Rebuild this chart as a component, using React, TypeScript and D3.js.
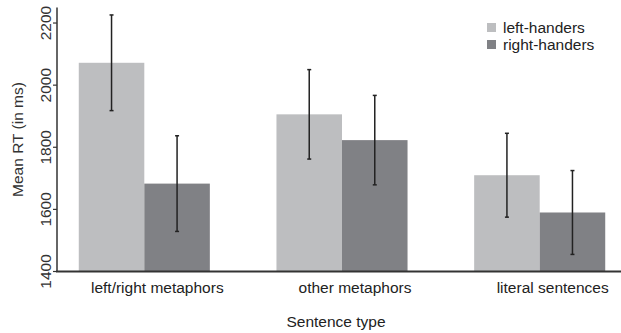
import * as d3 from "d3";
import React, { useRef, useEffect } from "react";

const categories = ["left/right metaphors", "other metaphors", "literal sentences"];
const groups = ["left-handers", "right-handers"];
const leftMeans = [2072, 1906, 1710];
const leftErr = [154, 144, 135];
const rightMeans = [1683, 1823, 1590];
const rightErr = [154, 144, 135];
const yTicks = [1400, 1600, 1800, 2000, 2200];

function BarChart(props: { width: number; height: number }) {
    const ref = useRef<SVGSVGElement>(null);

    useEffect(() => {
        const svg = d3.select(ref.current);
        svg.selectAll("*").remove();

        const font = "'Liberation Sans', Arial, sans-serif";
        const axisColor = "#333";
        const colors = ["#bdbec0", "#808185"];

        const x = d3.scaleBand<string>()
            .domain(categories)
            .range([59, 625])
            .paddingInner(0.337)
            .paddingOuter(0.1);

        const sub = d3.scaleBand<string>()
            .domain(groups)
            .range([0, x.bandwidth()]);

        const y = d3.scaleLinear()
            .domain([1400, 2250])
            .range([271.5, 7.5]);

        const rows = categories.flatMap((c, i) => [
            { cat: c, grp: groups[0], mean: leftMeans[i], err: leftErr[i] },
            { cat: c, grp: groups[1], mean: rightMeans[i], err: rightErr[i] },
        ]);

        // bars
        svg.append("g")
            .selectAll("rect")
            .data(rows)
            .enter()
            .append("rect")
            .attr("x", d => (x(d.cat) as number) + (sub(d.grp) as number))
            .attr("width", sub.bandwidth())
            .attr("y", d => y(d.mean))
            .attr("height", d => y(1400) - y(d.mean))
            .attr("fill", d => colors[groups.indexOf(d.grp)]);

        // error bars
        const eb = svg.append("g")
            .selectAll("g")
            .data(rows)
            .enter()
            .append("g")
            .attr("stroke", "#222")
            .attr("stroke-width", 1.5)
            .attr("transform", d => `translate(${(x(d.cat) as number) + (sub(d.grp) as number) + sub.bandwidth() / 2},0)`);

        eb.append("line")
            .attr("y1", d => y(d.mean + d.err))
            .attr("y2", d => y(d.mean - d.err));
        eb.append("line")
            .attr("x1", -2).attr("x2", 2)
            .attr("y1", d => y(d.mean + d.err))
            .attr("y2", d => y(d.mean + d.err));
        eb.append("line")
            .attr("x1", -2).attr("x2", 2)
            .attr("y1", d => y(d.mean - d.err))
            .attr("y2", d => y(d.mean - d.err));

        // y axis
        const yAxis = svg.append("g");
        yAxis.append("line")
            .attr("x1", 57).attr("x2", 57)
            .attr("y1", y(2250)).attr("y2", y(1400))
            .attr("stroke", axisColor)
            .attr("stroke-width", 1.5);
        const tick = yAxis.selectAll(".tick")
            .data(yTicks)
            .enter()
            .append("g")
            .attr("class", "tick");
        tick.append("line")
            .attr("x1", 53).attr("x2", 57)
            .attr("y1", d => y(d)).attr("y2", d => y(d))
            .attr("stroke", axisColor)
            .attr("stroke-width", 1.2);
        tick.append("text")
            .text(d => d)
            .attr("transform", d => `translate(51,${y(d)}) rotate(-90)`)
            .attr("text-anchor", "middle")
            .attr("font-family", font)
            .attr("font-size", 15.5)
            .attr("fill", "#333");

        svg.append("text")
            .text("Mean RT (in ms)")
            .attr("transform", `translate(23,${y(1825)}) rotate(-90)`)
            .attr("text-anchor", "middle")
            .attr("font-family", font)
            .attr("font-size", 15.5)
            .attr("fill", "#333");

        // x axis
        svg.append("line")
            .attr("x1", 56).attr("x2", 621)
            .attr("y1", 271.5).attr("y2", 271.5)
            .attr("stroke", axisColor)
            .attr("stroke-width", 2);

        svg.append("g")
            .selectAll("text")
            .data(categories)
            .enter()
            .append("text")
            .text(d => d)
            .attr("x", d => (x(d) as number) + x.bandwidth() / 2 + 13)
            .attr("y", 293)
            .attr("text-anchor", "middle")
            .attr("font-family", font)
            .attr("font-size", 15.5)
            .attr("fill", "#222");

        svg.append("text")
            .text("Sentence type")
            .attr("x", 336)
            .attr("y", 327)
            .attr("text-anchor", "middle")
            .attr("font-family", font)
            .attr("font-size", 15.5)
            .attr("fill", "#222");

        // legend
        const legend = svg.append("g")
            .selectAll("g")
            .data(groups)
            .enter()
            .append("g")
            .attr("transform", (d, i) => `translate(487,${23 + i * 17})`);
        legend.append("rect")
            .attr("width", 9)
            .attr("height", 9)
            .attr("fill", (d, i) => colors[i]);
        legend.append("text")
            .text(d => d)
            .attr("x", 16)
            .attr("y", 10)
            .attr("font-family", font)
            .attr("font-size", 15.5)
            .attr("fill", "#222");
    }, []);

    return (
        <svg ref={ref} width={props.width} height={props.height}
            style={{ position: "absolute", left: 0, top: 0, background: "#fff" }} />
    );
}

export default function App() {
    return <BarChart width={621} height={333} />;
}
